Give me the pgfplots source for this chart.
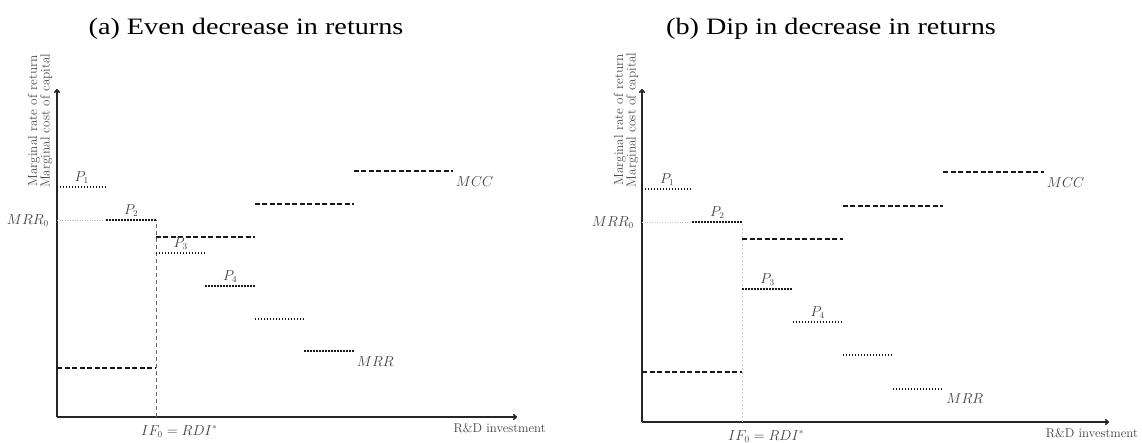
\documentclass[border=0pt]{standalone}
\usepackage{fontspec}
\usepackage{pgfplots}
\pgfplotsset{compat=1.18}
\usetikzlibrary{arrows.meta}
\newfontfamily\titlefont[FakeStretch=1.2]{Liberation Serif}

% MRR (marginal rate of return) steps, panel (a): even decrease
\pgfplotstableread{
x y
0 7
1 7
1 nan
1 6
2 6
2 nan
2 5
3 5
3 nan
3 4
4 4
4 nan
4 3
5 3
5 nan
5 2
6 2
}\mrra
% MRR steps, panel (b): dip in decrease
\pgfplotstableread{
x y
0 7
1 7
1 nan
1 6
2 6
2 nan
2 4
3 4
3 nan
3 3
4 3
4 nan
4 2
5 2
5 nan
5 1
6 1
}\mrrb
% MCC (marginal cost of capital) steps, both panels
\pgfplotstableread{
x y
0 1.5
2 1.5
2 nan
2 5.5
4 5.5
4 nan
4 6.5
6 6.5
6 nan
6 7.5
8 7.5
}\mcc

\pgfplotsset{
  myax/.style={scale only axis, xmin=0, xmax=9.3, ymin=0, ymax=10,
    axis lines*=left,
    axis line style={line width=1.6pt, black!85, -{To[length=4pt,width=6pt]}},
    xtick=\empty, ytick=\empty, clip=false, unbounded coords=jump,
    anchor=south west},
}
\tikzset{
  mrr/.style={black!90, line width=1.9pt, dash pattern=on 1.4pt off 1.6pt},
  mcc/.style={black!90, line width=2pt, dash pattern=on 5pt off 2.5pt},
  lbl/.style={font=\fontsize{13.5}{15}\selectfont, text=black!75},
  ylbl/.style={font=\fontsize{13.2}{12.5}\selectfont, text=black!70, rotate=90, align=center, inner sep=0pt},
}

\begin{document}
\begin{tikzpicture}
\useasboundingbox (0pt,0pt) rectangle (1142pt,442pt);
\node[anchor=base, font=\titlefont\fontsize{23.5}{27}\selectfont] at (246pt,407pt) {(a) Even decrease in returns};
\node[anchor=base, font=\titlefont\fontsize{23.5}{27}\selectfont] at (831pt,407pt) {(b) Dip in decrease in returns};

% ---------- panel (a)
\begin{axis}[myax, at={(57pt,25pt)}, width=460pt, height=328pt]
\addplot[gray!55, line width=0.6pt, dash pattern=on 1pt off 1.5pt] coordinates {(0,6) (1,6)};
\addplot[black!60, line width=0.8pt, dash pattern=on 4pt off 3pt] coordinates {(2,0) (2,6)};
\addplot[mrr] table {\mrra};
\addplot[mcc] table {\mcc};
\node[lbl, anchor=south] at (axis cs:0.5,7) {$P_1$};
\node[lbl, anchor=south] at (axis cs:1.5,6) {$P_2$};
\node[lbl, anchor=south] at (axis cs:2.5,5) {$P_3$};
\node[lbl, anchor=south] at (axis cs:3.5,4) {$P_4$};
\node[lbl, anchor=north west, inner sep=0pt, xshift=3pt, yshift=-5pt] at (axis cs:6,2) {$MRR$};
\node[lbl, anchor=north west, inner sep=0pt, xshift=3pt, yshift=-5pt] at (axis cs:8,7.5) {$MCC$};
\node[lbl, anchor=east, inner sep=0pt, xshift=-8pt] at (axis cs:0,6) {$MRR_0$};
\node[lbl, anchor=north, inner sep=0pt, yshift=-8pt] at (axis cs:2.47,0) {$IF_0 = RDI^*$};
\node[font=\fontsize{12.8}{14}\selectfont, text=black!75, anchor=north, inner sep=0pt, yshift=-6pt] at (axis cs:8.95,0) {R\&D investment};
\node[ylbl] at ([xshift=-17pt]axis cs:0,9.03) {Marginal rate of return\\Marginal cost of capital};
\end{axis}

% ---------- panel (b)
\begin{axis}[myax, at={(642pt,20pt)}, width=467pt, height=333pt]
\addplot[gray!45, line width=0.6pt, dash pattern=on 1pt off 1.5pt] coordinates {(0,6) (1,6)};
\addplot[gray!40, line width=0.7pt, dash pattern=on 2pt off 2pt] coordinates {(2,0) (2,6)};
\addplot[mrr] table {\mrrb};
\addplot[mcc] table {\mcc};
\node[lbl, anchor=south] at (axis cs:0.5,7) {$P_1$};
\node[lbl, anchor=south] at (axis cs:1.5,6) {$P_2$};
\node[lbl, anchor=south] at (axis cs:2.5,4) {$P_3$};
\node[lbl, anchor=south] at (axis cs:3.5,3) {$P_4$};
\node[lbl, anchor=north west, inner sep=0pt, xshift=3pt, yshift=-5pt] at (axis cs:6,1) {$MRR$};
\node[lbl, anchor=north west, inner sep=0pt, xshift=3pt, yshift=-5pt] at (axis cs:8,7.5) {$MCC$};
\node[lbl, anchor=east, inner sep=0pt, xshift=-8pt] at (axis cs:0,6) {$MRR_0$};
\node[lbl, anchor=north, inner sep=0pt, yshift=-8pt] at (axis cs:2.47,0) {$IF_0 = RDI^*$};
\node[font=\fontsize{12.8}{14}\selectfont, text=black!75, anchor=north, inner sep=0pt, yshift=-6pt] at (axis cs:8.96,0) {R\&D investment};
\node[ylbl] at ([xshift=-16pt]axis cs:0,9.07) {Marginal rate of return\\Marginal cost of capital};
\end{axis}
\end{tikzpicture}
\end{document}
